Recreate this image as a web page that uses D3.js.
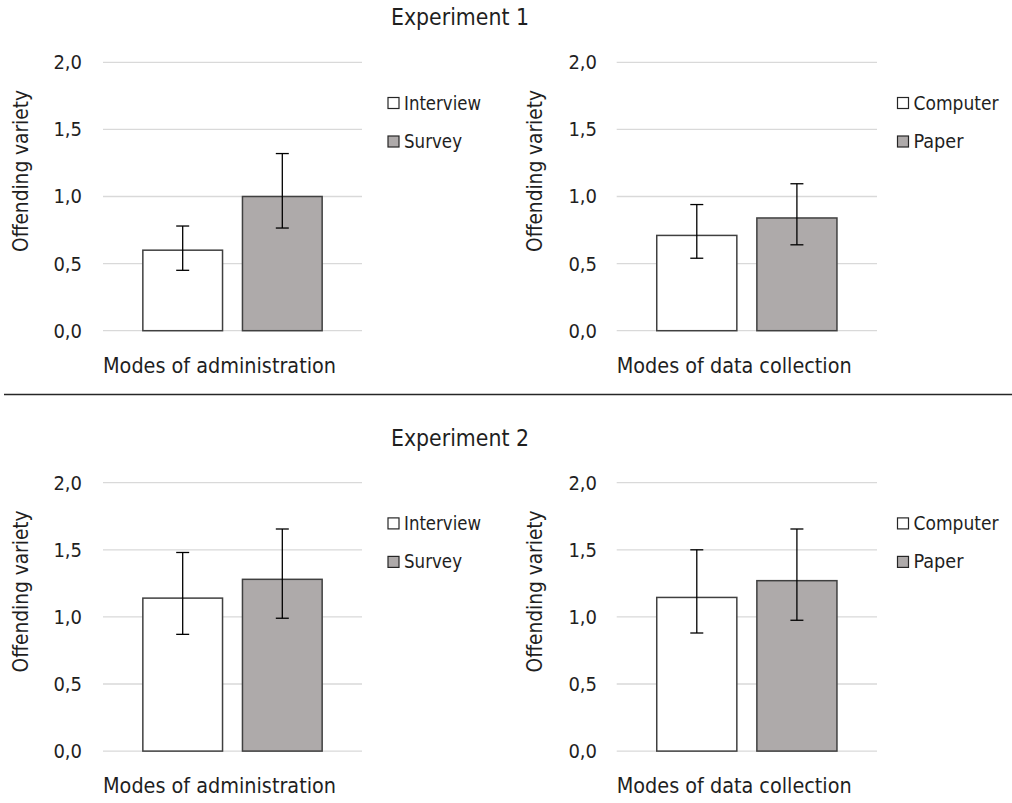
<!DOCTYPE html>
<html>
<head>
<meta charset="utf-8">
<script src="https://cdn.jsdelivr.net/npm/d3@7"></script>
<style>
  html, body { margin: 0; padding: 0; background: #fff; }
  svg { display: block; }
  text { font-family: "Liberation Sans Narrow", "DejaVu Sans Condensed", "Liberation Sans", sans-serif; fill: #1f1f1f; }
</style>
</head>
<body>
<svg id="chart" width="1012" height="803"></svg>
<script>
// ---- data ----
const experiments = ["Experiment 1", "Experiment 2"];
const yTicks = [0, 0.5, 1.0, 1.5, 2.0];
const yTickLabels = ["0,0", "0,5", "1,0", "1,5", "2,0"];
const yAxisTitle = "Offending variety";

const adminSeries = ["Interview", "Survey"];
const adminTitle = "Modes of administration";
const adminMeans = [[0.60, 1.00], [1.14, 1.28]];
const adminLow   = [[0.45, 0.765], [0.87, 0.99]];
const adminHigh  = [[0.78, 1.32], [1.48, 1.655]];

const collectSeries = ["Computer", "Paper"];
const collectTitle = "Modes of data collection";
const collectMeans = [[0.71, 0.84], [1.145, 1.27]];
const collectLow   = [[0.54, 0.64], [0.88, 0.975]];
const collectHigh  = [[0.94, 1.095], [1.50, 1.655]];

const seriesColors = ["#ffffff", "#aeaaaa"];

// ---- drawing ----
const svg = d3.select("#chart");
const rowOffset = [0, 420.4];
const titleY = [25, 446];

function fitText(sel, len) {
  return sel.attr("textLength", len).attr("lengthAdjust", "spacingAndGlyphs");
}

function panel(g, x0, x1, series, means, low, high, xTitle, xTitleLen, legendX, legendLens, tickRight, yTitleX) {
  const y = d3.scaleLinear().domain([0, 2]).range([330.7, 62.3]);
  const x = d3.scaleBand().domain(series).range([x0, x1]).paddingInner(0.2).paddingOuter(0.4);

  // gridlines
  g.selectAll(".grid").data(yTicks).enter().append("line")
    .attr("x1", x0).attr("x2", x1)
    .attr("y1", d => y(d)).attr("y2", d => y(d))
    .attr("stroke", "#d9d9d9").attr("stroke-width", 1.3);

  // y axis via d3.axisLeft, styled
  const ax = g.append("g").attr("transform", `translate(${tickRight},0)`)
    .call(d3.axisLeft(y).tickValues(yTicks).tickSize(0).tickPadding(0)
      .tickFormat((d, i) => yTickLabels[i]));
  ax.select(".domain").remove();
  ax.selectAll("text").style("font-size", "20px").attr("fill", "#1f1f1f")
    .style("font-family", '"Liberation Sans Narrow", "DejaVu Sans Condensed", sans-serif');

  // y title
  fitText(g.append("text")
    .attr("transform", `translate(${yTitleX},171) rotate(-90)`)
    .attr("text-anchor", "middle").attr("dominant-baseline", "central")
    .style("font-size", "20.5px").text(yAxisTitle), 162);

  // bars
  g.selectAll(".bar").data(series).enter().append("rect")
    .attr("x", d => x(d)).attr("width", x.bandwidth())
    .attr("y", (d, i) => y(means[i]))
    .attr("height", (d, i) => y(0) - y(means[i]))
    .attr("fill", (d, i) => seriesColors[i])
    .attr("stroke", "#404040").attr("stroke-width", 1.5);

  // error bars
  const cap = 6.5;
  series.forEach((s, i) => {
    const cx = x(s) + x.bandwidth() / 2;
    g.append("line").attr("x1", cx).attr("x2", cx)
      .attr("y1", y(low[i])).attr("y2", y(high[i]))
      .attr("stroke", "#000").attr("stroke-width", 1.3);
    [low[i], high[i]].forEach(v => {
      g.append("line").attr("x1", cx - cap).attr("x2", cx + cap)
        .attr("y1", y(v)).attr("y2", y(v))
        .attr("stroke", "#000").attr("stroke-width", 1.3);
    });
  });

  // x title
  fitText(g.append("text").attr("x", x0).attr("y", 372.5)
    .style("font-size", "22px").text(xTitle), xTitleLen);

  // legend
  series.forEach((s, i) => {
    const ly = 103 + i * 38.5;
    g.append("rect").attr("x", legendX).attr("y", ly - 5.5)
      .attr("width", 11).attr("height", 11)
      .attr("fill", seriesColors[i]).attr("stroke", "#262626").attr("stroke-width", 1.2);
    fitText(g.append("text").attr("x", legendX + 16).attr("y", ly)
      .attr("dominant-baseline", "central")
      .style("font-size", "19.5px").text(s), legendLens[i]);
  });
}

experiments.forEach((e, r) => {
  const g = svg.append("g").attr("transform", `translate(0,${rowOffset[r]})`);
  panel(g, 103, 362, adminSeries, adminMeans[r], adminLow[r], adminHigh[r], adminTitle, 233, 388, [77, 58], 82, 21);
  panel(g, 616.7, 877, collectSeries, collectMeans[r], collectLow[r], collectHigh[r], collectTitle, 235, 897.5, [85, 50], 597, 535);
  fitText(svg.append("text").attr("x", 460).attr("y", titleY[r])
    .attr("text-anchor", "middle").style("font-size", "22.5px").text(e), 138);
});

// separator
svg.append("line").attr("x1", 4).attr("x2", 1012).attr("y1", 394.5).attr("y2", 394.5)
  .attr("stroke", "#262626").attr("stroke-width", 1.5);
</script>
</body>
</html>
